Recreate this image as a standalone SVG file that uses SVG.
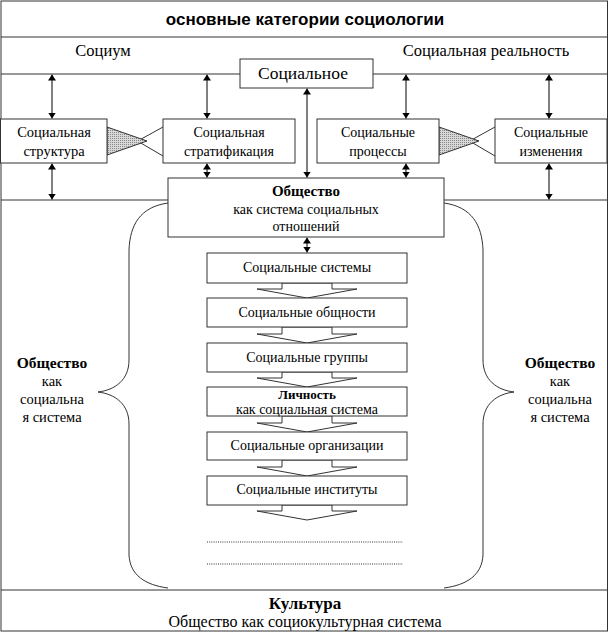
<svg xmlns="http://www.w3.org/2000/svg" width="611" height="633" viewBox="0 0 611 633">
<defs>
<marker id="ah" viewBox="0 0 10 10" refX="10" refY="5" markerWidth="6" markerHeight="8" markerUnits="userSpaceOnUse" orient="auto-start-reverse" preserveAspectRatio="none"><path d="M0,0 L10,5 L0,10 z" fill="#000"/></marker>
<pattern id="dots" width="2" height="2" patternUnits="userSpaceOnUse"><rect width="2" height="2" fill="#d8d8d8"/><rect width="1" height="1" fill="#888"/></pattern>
</defs>
<style>
.frame{fill:none;stroke:#333;stroke-width:1}
.box{fill:#fff;stroke:#333;stroke-width:1}
.t{font-family:"Liberation Serif","Times New Roman",serif;font-size:14px;fill:#000;text-anchor:middle}
.big{font-size:16.5px}
.side{font-size:14.5px}
.b{font-weight:bold}
.title{font-family:"Liberation Sans",Arial,sans-serif;font-size:17px;font-weight:bold;text-anchor:middle}
.arr{stroke:#000;stroke-width:1;fill:none;marker-start:url(#ah);marker-end:url(#ah)}
.chev{fill:#fff;stroke:#333;stroke-width:1}
.tri{fill:url(#dots);stroke:#333;stroke-width:1}
.ln{stroke:#333;stroke-width:1;fill:none}
.brace{fill:none;stroke:#333;stroke-width:1}
.dotl{stroke:#333;stroke-width:1;stroke-dasharray:1 1.2}
</style>
<rect width="611" height="633" fill="#fff"/>
<g id="frame">
<rect class="frame" x="1" y="1" width="606.5" height="630"/>
<line class="ln" x1="1" y1="37" x2="607" y2="37"/>
<line class="ln" x1="1" y1="74" x2="240" y2="74"/>
<line class="ln" x1="373" y1="74" x2="607" y2="74"/>
<line class="ln" x1="1" y1="200" x2="168" y2="200"/>
<line class="ln" x1="444" y1="200" x2="607" y2="200"/>
<line class="ln" x1="1" y1="590" x2="607" y2="590"/>
<text class="title" x="305" y="25">основные категории социологии</text>
<text class="t big" x="103" y="56">Социум</text>
<text class="t big" x="486" y="56">Социальная реальность</text>
</g>
<g id="braces">
<path class="brace" d="M168,203 C140,207 130,225 129,250 L129,360 C129,380 115,390 98,392 C115,394 129,404 129,424 L129,555 C130,575 145,585 168,588"/>
<path class="brace" d="M444,203 C472,207 482,225 483,250 L483,360 C483,380 497,390 514,392 C497,394 483,404 483,424 L483,555 C482,575 467,585 444,588"/>
<text class="t b" x="52" y="368" style="font-size:15.5px">Общество</text>
<text class="t side" x="52" y="386">как</text>
<text class="t side" x="52" y="404">социальна</text>
<text class="t side" x="52" y="422">я система</text>
<text class="t b" x="560" y="368" style="font-size:15.5px">Общество</text>
<text class="t side" x="560" y="386">как</text>
<text class="t side" x="560" y="404">социальна</text>
<text class="t side" x="560" y="422">я система</text>
</g>
<g id="connectors">
<line class="arr" x1="52" y1="74.5" x2="52" y2="118.5"/>
<line class="arr" x1="207" y1="74.5" x2="207" y2="118.5"/>
<line class="arr" x1="406" y1="74.5" x2="406" y2="118.5"/>
<line class="arr" x1="549" y1="74.5" x2="549" y2="118.5"/>
<line class="arr" x1="52" y1="163.5" x2="52" y2="199.5"/>
<line class="arr" x1="207" y1="163.5" x2="207" y2="177.5"/>
<line class="arr" x1="406" y1="163.5" x2="406" y2="177.5"/>
<line class="arr" x1="549" y1="163.5" x2="549" y2="199.5"/>
<line class="arr" x1="307" y1="88.5" x2="307" y2="177.5"/>
<line class="arr" x1="307" y1="237.5" x2="307" y2="252.5"/>
<line class="ln" x1="163" y1="127" x2="134" y2="143"/>
<line class="ln" x1="163" y1="156" x2="134" y2="139"/>
<polygon class="tri" points="107,127 147,141 107,155"/>
<line class="ln" x1="495" y1="127" x2="466" y2="143"/>
<line class="ln" x1="495" y1="156" x2="466" y2="139"/>
<polygon class="tri" points="439,127 479,141 439,155"/>
<polygon class="chev" points="282,283 282,289 257,289 307,298 357,289 332,289 332,283"/>
<polygon class="chev" points="282,327 282,334 257,334 307,343 357,334 332,334 332,327"/>
<polygon class="chev" points="282,372 282,378 257,378 307,387 357,378 332,378 332,372"/>
<polygon class="chev" points="282,416 282,423 257,423 307,432 357,423 332,423 332,416"/>
<polygon class="chev" points="282,460 282,467 257,467 307,476 357,467 332,467 332,460"/>
<polygon class="chev" points="282,505 282,511 257,511 307,520 357,511 332,511 332,505"/>
<line class="dotl" x1="207" y1="542" x2="403" y2="542"/>
<line class="dotl" x1="207" y1="564" x2="403" y2="564"/>
</g>
<g id="n-socialnoe"><rect class="box" x="240" y="59" width="133" height="29"/><text class="t" x="303" y="79" style="font-size:17.5px">Социальное</text></g>
<g id="n-struktura"><rect class="box" x="0.5" y="119" width="106.5" height="44"/><text class="t" x="54" y="137" style="font-size:14.5px">Социальная</text><text class="t" x="54" y="156" style="font-size:14.5px">структура</text></g>
<g id="n-strat"><rect class="box" x="163" y="119" width="132" height="44"/><text class="t" x="229" y="137">Социальная</text><text class="t" x="229" y="156">стратификация</text></g>
<g id="n-process"><rect class="box" x="317" y="119" width="122" height="44"/><text class="t" x="378" y="137">Социальные</text><text class="t" x="378" y="156">процессы</text></g>
<g id="n-izmen"><rect class="box" x="495" y="119" width="112" height="44"/><text class="t" x="551" y="137">Социальные</text><text class="t" x="551" y="156">изменения</text></g>
<g id="n-obshestvo"><rect class="box" x="168" y="178" width="276" height="59"/><text class="t b" x="306" y="196" style="font-size:15px">Общество</text><text class="t" x="306" y="214">как система социальных</text><text class="t" x="306" y="231">отношений</text></g>
<g id="n-sistemy"><rect class="box" x="207" y="253" width="200" height="30"/><text class="t" x="307" y="272">Социальные системы</text></g>
<g id="n-obshn"><rect class="box" x="207" y="298" width="200" height="29"/><text class="t" x="307" y="317">Социальные общности</text></g>
<g id="n-gruppy"><rect class="box" x="207" y="343" width="200" height="29"/><text class="t" x="307" y="362">Социальные группы</text></g>
<g id="n-lichnost"><rect class="box" x="207" y="387" width="200" height="29"/><text class="t b" x="307" y="398.5" style="font-size:13px">Личность</text><text class="t" x="307" y="413.5">как социальная система</text></g>
<g id="n-organiz"><rect class="box" x="207" y="432" width="200" height="28"/><text class="t" x="307" y="450">Социальные организации</text></g>
<g id="n-instit"><rect class="box" x="207" y="476" width="200" height="29"/><text class="t" x="307" y="494">Социальные институты</text></g>
<g id="n-kultura"><text class="t b" x="305" y="609" style="font-size:17px">Культура</text><text class="t" x="305" y="627" style="font-size:16px">Общество как социокультурная система</text></g>
</svg>
